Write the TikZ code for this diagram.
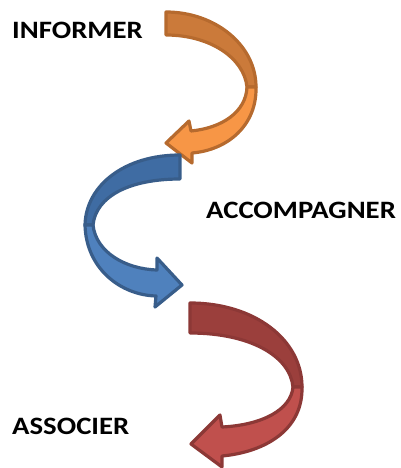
\documentclass[tikz,border=0pt]{standalone}
\usepackage{fontspec}
\setmainfont[FakeStretch=1.15]{Carlito}
\definecolor{orfront}{HTML}{F79646}
\definecolor{orback}{HTML}{CB7A3A}
\definecolor{orline}{HTML}{B66A2E}
\definecolor{blfront}{HTML}{4F81BD}
\definecolor{blback}{HTML}{3F6CA3}
\definecolor{blline}{HTML}{385D8A}
\definecolor{rdfront}{HTML}{C0504D}
\definecolor{rdback}{HTML}{9B3F3C}
\definecolor{rdline}{HTML}{8C3836}
\tikzset{
  lbl/.style={anchor=base west, inner sep=0pt, font=\fontsize{25}{30}\selectfont\bfseries},
  arr/.style={line width=3.2pt, line join=round}
}
\begin{document}
\begin{tikzpicture}[x=1pt,y=-1pt]
\useasboundingbox (0,0) rectangle (401,468);
% orange
\filldraw[arr, fill=orback, draw=orline] (166,12) .. controls (215,12) and (256,45) .. (256,87)
  -- (247,87) .. controls (244,58) and (210,35) .. (166,35) -- cycle;
\filldraw[arr, fill=orfront, draw=orline] (256,87) .. controls (257,125) and (228,150) .. (192,153)
  -- (192,163) -- (166,143) -- (189,121) -- (191,131)
  .. controls (222,128) and (246,112) .. (247,87) -- cycle;
% blue
\filldraw[arr, fill=blback, draw=blline] (180,155) .. controls (125,155) and (86,185) .. (85,225)
  -- (93,225) .. controls (96,196) and (130,179) .. (180,179) -- cycle;
\filldraw[arr, fill=blfront, draw=blline] (85,225) .. controls (86,268) and (120,295) .. (156,296)
  -- (155,307) -- (182,285) -- (157,258) -- (157,270)
  .. controls (125,269) and (96,252) .. (93,225) -- cycle;
% red
\filldraw[arr, fill=rdback, draw=rdline] (190,303) .. controls (255,303) and (302,340) .. (302,387)
  -- (293,387) .. controls (290,356) and (250,333) .. (190,333) -- cycle;
\filldraw[arr, fill=rdfront, draw=rdline] (302,387) .. controls (303,430) and (265,452) .. (222,456)
  -- (222,467) -- (191,444) -- (220,415) -- (222,427)
  .. controls (262,425) and (291,410) .. (293,387) -- cycle;
\node[lbl] (informer) at (12,39) {INFORMER};
\node[lbl] (accomp) at (206,218) {ACCOMPAGNER};
\node[lbl] (associer) at (12,434) {ASSOCIER};
\end{tikzpicture}
\end{document}
